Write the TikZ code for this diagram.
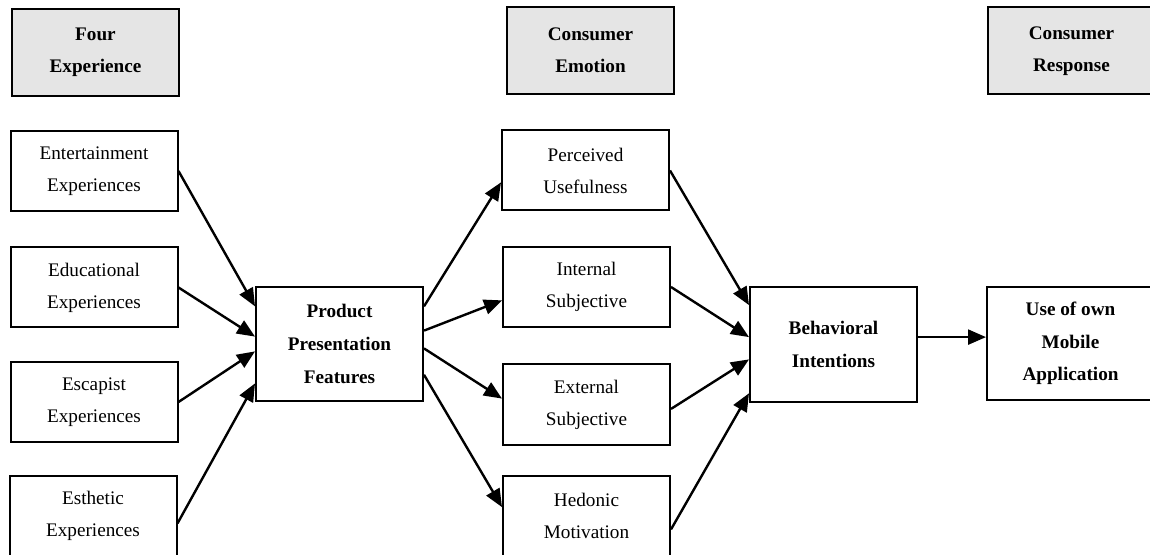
\documentclass[tikz,border=0pt]{standalone}
\usepackage{fontspec}
\setmainfont{Liberation Serif}
\usetikzlibrary{arrows.meta}

\tikzset{
	plainbox/.style={draw, line width=1pt, minimum width=83.5pt, minimum height=40pt,
		inner sep=0pt, align=center, font={\fontsize{9.6}{16}\selectfont}},
	headbox/.style={plainbox, fill=black!10, minimum height=43.5pt, font={\fontsize{9.6}{16}\selectfont\bfseries}},
	boldbox/.style={plainbox, font={\fontsize{9.6}{16.3}\selectfont\bfseries}},
	link/.style={line width=1.2pt, -{Triangle[length=9pt,width=7.5pt]}}
}

\begin{document}
\begin{tikzpicture}[x=0.5pt,y=-0.5pt]
		\clip (0,0) rectangle (1150,555);
		% headers
		\node[headbox] (hfour) at (95.5,52.5) {Four\\Experience};
		\node[headbox] (hemo) at (590.5,50.5) {Consumer\\Emotion};
		\node[headbox] (hresp) at (1071.5,51) {Consumer\\Response};
		% four experiences
		\node[plainbox] (ent) at (94,171) {Entertainment\\Experiences};
		\node[plainbox] (edu) at (94,287.5) {Educational\\Experiences};
		\node[plainbox] (esc) at (94,402) {Escapist\\Experiences};
		\node[plainbox] (est) at (93,516) {Esthetic\\Experiences};
		\node[boldbox, minimum height=57pt] (prod) at (339.5,344) {Product\\Presentation\\Features};
		% consumer emotion
		\node[plainbox] (per) at (585.5,170.5) {Perceived\\Usefulness};
		\node[plainbox] (int) at (586.5,287) {Internal\\Subjective};
		\node[plainbox] (ext) at (586.5,404.5) {External\\Subjective};
		\node[plainbox] (hed) at (586.5,516) {Hedonic\\Motivation};
		\node[boldbox, minimum height=57.5pt] (beh) at (833.5,344.5) {Behavioral\\Intentions};
		\node[boldbox, minimum height=56.5pt] (use) at (1070.5,343.5) {Use of own\\Mobile\\Application};
		% arrows
		\draw[link] (ent.east) -- (prod.156);
		\draw[link] (edu.east) -- (prod.175);
		\draw[link] (esc.east) -- (prod.185.5);
		\draw[link] (est.-5) -- (prod.205);
		\draw[link] (prod.24) -- (per.188);
		\draw[link] (prod.9.5) -- (int.189);
		\draw[link] (prod.-3.4) -- (ext.176);
		\draw[link] (prod.-20.4) -- (hed.174.5);
		\draw[link] (per.east) -- (beh.155.8);
		\draw[link] (int.east) -- (beh.175);
		\draw[link] (ext.-3.8) -- (beh.190.5);
		\draw[link] (hed.-9.5) -- (beh.210);
		\draw[link] (beh.5) -- (beh.5 -| use.west);
	\end{tikzpicture}
\end{document}
